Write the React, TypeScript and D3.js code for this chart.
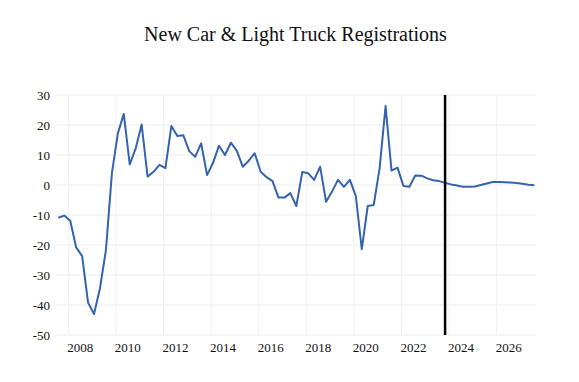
import React from "react";
import * as d3 from "d3";

const title = "New Car & Light Truck Registrations";
// Quarterly series starting 2007 Q3, through 2027 Q3
const firstQuarterYear = 2007;
const firstQuarter = 3;
const values = [
  -10.9, -10.2, -11.9, -20.8, -23.7, -39.2, -43.0, -34.4, -21.7, 3.9,
  17.2, 23.7, 6.9, 12.2, 20.2, 2.8, 4.4, 6.7, 5.6, 19.7,
  16.3, 16.6, 11.3, 9.4, 13.9, 3.3, 7.4, 13.1, 10.0, 14.1,
  11.4, 6.1, 8.1, 10.6, 4.4, 2.6, 1.3, -4.2, -4.2, -2.7,
  -7.0, 4.3, 3.9, 1.7, 6.1, -5.6, -2.2, 1.7, -0.6, 1.7,
  -3.7, -21.4, -7.0, -6.7, 5.6, 26.3, 4.8, 5.8, -0.3, -0.6,
  3.2, 3.1, 2.2, 1.6, 1.3, 0.7, 0.2, -0.2, -0.6, -0.6,
  -0.5, 0.0, 0.5, 1.0, 1.0, 0.9, 0.8, 0.7, 0.4, 0.1, -0.1,
];
const forecastStartIndex = 65;
const yTicks = [30, 20, 10, 0, -10, -20, -30, -40, -50];
const xTickYears = [2008, 2010, 2012, 2014, 2016, 2018, 2020, 2022, 2024, 2026];

const W = 579;
const H = 382;
const font = "Liberation Serif, Times New Roman, serif";

function quarterTime(i: number) {
  const q = firstQuarter - 1 + i;
  return firstQuarterYear + Math.floor(q / 4) + (q % 4) / 4 + 0.08;
}

export default function App() {
  const x = d3.scaleLinear().domain([2007.44, 2027.65]).range([55, 536]);
  const y = d3.scaleLinear().domain([-50, 30]).range([335, 95]);
  const pts: [number, number][] = values.map((v, i) => [quarterTime(i), v]);
  const line = d3
    .line<[number, number]>()
    .x((d) => x(d[0]))
    .y((d) => y(d[1]));
  const fx = x(quarterTime(forecastStartIndex));
  const ts = { fontFamily: font };
  return (
    <svg
      width={W}
      height={H}
      style={{ position: "absolute", left: 0, top: 0, background: "#fff" }}
    >
      <text x={295.5} y={41} textAnchor="middle" fontSize={20} fill="#111" style={ts}>
        {title}
      </text>
      {yTicks.map((t) => (
        <line key={"hy" + t} x1={55} x2={536} y1={y(t)} y2={y(t)} stroke="#ececec" strokeWidth={1} />
      ))}
      {xTickYears.map((yr) => (
        <line key={"vx" + yr} x1={x(yr)} x2={x(yr)} y1={y(30)} y2={y(-50)} stroke="#f0f0f0" strokeWidth={1} />
      ))}
      {yTicks.map((t) => (
        <text key={"ty" + t} x={50} y={y(t) + 4.5} textAnchor="end" fontSize={13} fill="#111" style={ts}>
          {t}
        </text>
      ))}
      {xTickYears.map((yr) => (
        <text key={"tx" + yr} x={x(yr + 0.5)} y={352} textAnchor="middle" fontSize={13} fill="#111" style={ts}>
          {yr}
        </text>
      ))}
      <path d={line(pts) || ""} fill="none" stroke="#3563ad" strokeWidth={2} strokeLinejoin="round" />
      <line x1={fx} x2={fx} y1={y(30)} y2={y(-50)} stroke="#000" strokeWidth={2.5} />
    </svg>
  );
}
